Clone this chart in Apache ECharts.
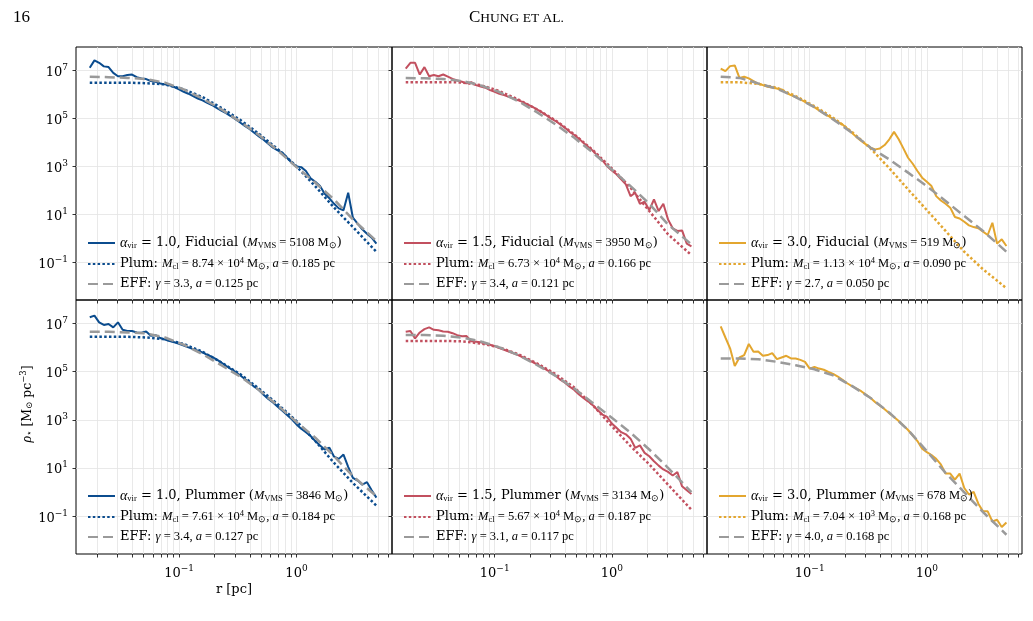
<!DOCTYPE html>
<html>
<head>
<meta charset="utf-8">
<script src="https://cdn.jsdelivr.net/npm/echarts@6/dist/echarts.min.js"></script>
<style>
html, body { margin: 0; padding: 0; background: #fff; }
#main { width: 1033px; height: 621px; }
</style>
</head>
<body>
<div id="main"></div>
<script>
// radial bins of the measured profiles, log10(r / pc)
var logR = [-1.76, -1.72, -1.68, -1.64, -1.60, -1.56, -1.52, -1.48, -1.44, -1.40,
  -1.36, -1.32, -1.28, -1.24, -1.20, -1.16, -1.12, -1.08, -1.04, -1.00,
  -0.96, -0.92, -0.88, -0.84, -0.80, -0.76, -0.72, -0.68, -0.64, -0.60,
  -0.56, -0.52, -0.48, -0.44, -0.40, -0.36, -0.32, -0.28, -0.24, -0.20,
  -0.16, -0.12, -0.08, -0.04, 0.00, 0.04, 0.08, 0.12, 0.16, 0.20,
  0.24, 0.28, 0.32, 0.36, 0.40, 0.44, 0.48, 0.52, 0.56, 0.60, 0.64, 0.68];

// radii where the fit curves were read, log10(r / pc)
var logRFit = [-1.76, -1.60, -1.44, -1.28, -1.12, -0.96, -0.80, -0.64, -0.48, -0.32, -0.16, 0.00, 0.16, 0.32, 0.48, 0.68];

// measured density profiles, log10(rho / Msun pc^-3)
var rhoFid10 = [7.11, 7.42, 7.32, 7.17, 7.14, 6.90, 6.76, 6.76, 6.81, 6.83, 6.72, 6.67, 6.64, 6.56, 6.53, 6.46, 6.42, 6.38, 6.31, 6.21,
  6.11, 6.03, 5.93, 5.83, 5.75, 5.65, 5.56, 5.44, 5.33, 5.22, 5.10, 4.97, 4.83, 4.69, 4.56, 4.40, 4.25, 4.11, 3.94, 3.78,
  3.67, 3.57, 3.36, 3.15, 3.00, 2.97, 2.81, 2.50, 2.36, 2.18, 1.86, 1.67, 1.44, 1.25, 1.17, 1.90, 0.86, 0.61, 0.38, 0.19, 0.03, -0.22];
var rhoFid15 = [7.08, 7.32, 7.32, 6.83, 7.14, 6.76, 6.81, 6.76, 6.83, 6.74, 6.65, 6.58, 6.53, 6.46, 6.51, 6.39, 6.33, 6.28, 6.18, 6.11,
  6.03, 5.97, 5.90, 5.83, 5.76, 5.68, 5.58, 5.49, 5.38, 5.26, 5.14, 5.00, 4.89, 4.75, 4.61, 4.44, 4.31, 4.15, 3.97, 3.81,
  3.64, 3.43, 3.25, 3.01, 2.83, 2.67, 2.46, 2.25, 1.76, 1.90, 1.44, 1.53, 1.18, 1.62, 1.14, 1.44, 0.79, 0.42, 0.31, 0.33, -0.22, -0.33];
var rhoFid30 = [7.08, 6.97, 7.18, 7.21, 6.69, 6.74, 6.67, 6.56, 6.44, 6.39, 6.32, 6.29, 6.25, 6.21, 6.07, 5.97, 5.89, 5.79, 5.69, 5.58,
  5.47, 5.33, 5.21, 5.10, 4.97, 4.86, 4.75, 4.58, 4.40, 4.22, 4.06, 3.92, 3.78, 3.71, 3.75, 3.89, 4.13, 4.44, 4.13, 3.75,
  3.36, 3.11, 2.81, 2.53, 2.36, 2.18, 1.76, 1.58, 1.44, 1.28, 0.89, 0.83, 0.69, 0.54, 0.47, 0.42, 0.28, 0.14, 0.65, -0.22, -0.04, -0.32];
var rhoPlm10 = [7.26, 7.33, 7.05, 6.94, 6.98, 6.84, 7.05, 6.74, 6.69, 6.69, 6.63, 6.62, 6.67, 6.49, 6.52, 6.40, 6.34, 6.27, 6.22, 6.16,
  6.09, 6.01, 5.94, 5.87, 5.80, 5.70, 5.62, 5.51, 5.38, 5.24, 5.12, 4.99, 4.85, 4.70, 4.55, 4.38, 4.24, 4.04, 3.87, 3.72,
  3.55, 3.38, 3.20, 3.02, 2.81, 2.63, 2.49, 2.33, 2.12, 1.94, 1.77, 1.84, 1.47, 1.38, 1.56, 1.05, 0.59, 0.48, 0.31, 0.41, 0.08, -0.23];
var rhoPlm15 = [6.66, 6.69, 6.38, 6.63, 6.77, 6.84, 6.74, 6.72, 6.67, 6.66, 6.60, 6.52, 6.47, 6.48, 6.26, 6.24, 6.22, 6.17, 6.12, 6.06,
  5.98, 5.91, 5.84, 5.76, 5.69, 5.60, 5.51, 5.41, 5.31, 5.20, 5.09, 4.97, 4.83, 4.67, 4.54, 4.38, 4.24, 4.05, 3.90, 3.76,
  3.60, 3.40, 3.22, 3.12, 2.85, 2.67, 2.49, 2.40, 2.22, 1.84, 1.94, 1.63, 1.49, 1.28, 1.10, 0.94, 0.84, 0.69, 0.83, 0.24, 0.08, -0.08];
var rhoPlm30 = [6.88, 6.42, 5.97, 5.24, 5.59, 5.69, 6.15, 5.83, 5.84, 5.66, 5.69, 5.77, 5.52, 5.59, 5.66, 5.55, 5.55, 5.49, 5.41, 5.13,
  5.20, 5.13, 5.08, 4.99, 4.91, 4.80, 4.66, 4.52, 4.40, 4.30, 4.19, 4.05, 3.91, 3.73, 3.59, 3.44, 3.27, 3.12, 2.95, 2.77,
  2.58, 2.35, 2.12, 1.80, 1.66, 1.54, 1.38, 1.15, 0.77, 0.77, 0.52, 0.77, 0.17, -0.10, 0.01, -0.48, -0.80, -0.80, -1.22, -1.15, -1.45, -1.26];

// Plummer fits, log10(rho)
var plumFid10 = [6.49, 6.49, 6.49, 6.47, 6.42, 6.21, 5.89, 5.44, 4.94, 4.36, 3.72, 3.00, 2.17, 1.28, 0.47, -0.56];
var plumFid15 = [6.51, 6.51, 6.51, 6.50, 6.39, 6.14, 5.79, 5.38, 4.92, 4.33, 3.67, 2.92, 2.11, 1.14, 0.17, -0.70];
var plumFid30 = [6.51, 6.51, 6.44, 6.28, 5.93, 5.51, 5.03, 4.44, 3.75, 2.92, 2.04, 1.18, 0.31, -0.56, -1.29, -2.08];
var plumPlm10 = [6.45, 6.45, 6.45, 6.42, 6.35, 6.15, 5.83, 5.38, 4.90, 4.30, 3.65, 2.95, 2.12, 1.21, 0.38, -0.56];
var plumPlm15 = [6.28, 6.28, 6.28, 6.26, 6.17, 6.01, 5.73, 5.35, 4.90, 4.34, 3.60, 2.74, 1.91, 1.15, 0.31, -0.73];
var plumPlm30 = [];

// EFF fits, log10(rho)
var effFid10 = [6.74, 6.72, 6.69, 6.64, 6.49, 6.21, 5.83, 5.38, 4.86, 4.31, 3.67, 2.97, 2.32, 1.62, 0.79, -0.11];
var effFid15 = [6.69, 6.67, 6.64, 6.56, 6.38, 6.10, 5.72, 5.26, 4.75, 4.19, 3.57, 2.87, 2.18, 1.44, 0.58, -0.25];
var effFid30 = [6.74, 6.69, 6.46, 6.24, 5.89, 5.47, 4.96, 4.40, 3.78, 3.29, 2.74, 2.18, 1.56, 0.93, 0.31, -0.56];
var effPlm10 = [6.66, 6.66, 6.63, 6.59, 6.42, 6.12, 5.73, 5.27, 4.80, 4.24, 3.60, 2.91, 2.26, 1.49, 0.66, -0.17];
var effPlm15 = [6.52, 6.52, 6.49, 6.42, 6.26, 6.01, 5.69, 5.28, 4.83, 4.30, 3.69, 3.09, 2.47, 1.77, 1.01, 0.00];
var effPlm30 = [5.55, 5.55, 5.52, 5.41, 5.27, 5.10, 4.85, 4.41, 3.91, 3.30, 2.58, 1.70, 0.80, -0.01, -0.83, -1.77];

// legend entries, panel order: top row Fiducial, bottom row Plummer
var alphaVir = ['1.0', '1.5', '3.0', '1.0', '1.5', '3.0'];
var runKind = ['Fiducial', 'Fiducial', 'Fiducial', 'Plummer', 'Plummer', 'Plummer'];
var mVms = ['5108', '3950', '519', '3846', '3134', '678'];
var mClMant = ['8.74', '6.73', '1.13', '7.61', '5.67', '7.04'];
var mClExp = ['4', '4', '4', '4', '4', '3'];
var aPlum = ['0.185', '0.166', '0.090', '0.184', '0.187', '0.168'];
var gammaEff = ['3.3', '3.4', '2.7', '3.4', '3.1', '4.0'];
var aEff = ['0.125', '0.121', '0.050', '0.127', '0.117', '0.168'];

var xTicks = [0.02, 0.03, 0.04, 0.05, 0.06, 0.07, 0.08, 0.09, 0.1, 0.2, 0.3, 0.4, 0.5, 0.6, 0.7, 0.8, 0.9, 1, 2, 3, 4, 5, 6];
var xMajor = [0.1, 1];
var yMajor = [0.1, 10, 1e3, 1e5, 1e7];

var profiles = [rhoFid10, rhoFid15, rhoFid30, rhoPlm10, rhoPlm15, rhoPlm30];
var plumFits = [plumFid10, plumFid15, plumFid30, plumPlm10, plumPlm15, plumPlm30];
var effFits = [effFid10, effFid15, effFid30, effPlm10, effPlm15, effPlm30];
var colors = ['#0b4c8e', '#c2505f', '#e3a62f'];

var X_MIN = 0.01327, X_MAX = 6.50;
var Y_MIN = 0.00269, Y_MAX = 9.5e7;

var chart = echarts.init(document.getElementById('main'));

function pairs(lr, lrho) {
  return lrho.map(function (v, k) { return [Math.pow(10, lr[k]), Math.pow(10, v)]; });
}

function powLabel(v) {
  var e = Math.round(Math.log10(v));
  return '{b|10}{e|' + (e < 0 ? '\u2212' + (-e) : e) + '}';
}

var tickRich = {
  b: { fontFamily: 'DejaVu Serif', fontSize: 13, color: '#000', padding: [4, 0, 0, 0] },
  e: { fontFamily: 'DejaVu Serif', fontSize: 9, color: '#000', padding: [0, 0, 6, 0] }
};

var legRich = {
  t: { fontFamily: 'DejaVu Serif', fontSize: 13, color: '#000' },
  g: { fontFamily: 'Liberation Serif', fontSize: 14, fontStyle: 'italic', color: '#000' },
  m: { fontFamily: 'Liberation Serif', fontSize: 12.5, color: '#000' },
  mi: { fontFamily: 'Liberation Serif', fontSize: 12.5, fontStyle: 'italic', color: '#000' },
  sub: { fontFamily: 'Liberation Serif', fontSize: 8.5, color: '#000', padding: [6, 0, 0, 0] },
  sup: { fontFamily: 'Liberation Serif', fontSize: 8.5, color: '#000', padding: [0, 0, 6, 0] }
};

var grids = [], xAxes = [], yAxes = [], legends = [], series = [];
var lefts = [76, 392, 707], widths = [316, 315, 315];
var tops = [47, 300], heights = [253, 254];
var richNames = {};

for (var i = 0; i < 6; i++) {
  var col = i % 3, row = Math.floor(i / 3);
  grids.push({ left: lefts[col], top: tops[row], width: widths[col], height: heights[row],
    show: true, borderColor: '#000', borderWidth: 1, backgroundColor: 'transparent', containLabel: false });

  xAxes.push({
    type: 'log', logBase: 10, gridIndex: i, min: X_MIN, max: X_MAX,
    axisLine: { show: false },
    axisTick: { show: true, length: 3.5, customValues: xTicks, lineStyle: { color: '#000', width: 0.8 } },
    axisLabel: { show: row === 1, customValues: xMajor, formatter: powLabel, margin: 9, rich: tickRich },
    splitLine: { show: true, lineStyle: { color: '#e3e3e3', width: 0.8 } },
    name: (i === 3) ? 'r [pc]' : '',
    nameLocation: 'middle', nameGap: 29,
    nameTextStyle: { fontFamily: 'DejaVu Serif', fontSize: 13, color: '#000' }
  });

  yAxes.push({
    type: 'log', logBase: 10, gridIndex: i, min: Y_MIN, max: Y_MAX,
    axisLine: { show: false },
    axisTick: { show: true, length: 3.5, customValues: yMajor, lineStyle: { color: '#000', width: 0.8 } },
    axisLabel: { show: col === 0, customValues: yMajor, formatter: powLabel, margin: 8, rich: tickRich },
    splitLine: { show: true, lineStyle: { color: '#e3e3e3', width: 0.8 } },
    name: (i === 3) ? '{g|\u03c1}{s|\u22c6} {b|[M}{s|\u2299}{b| pc}{e|\u22123}{b|]}' : '',
    nameLocation: 'middle', nameGap: 40, nameRotate: 90,
    nameTextStyle: {
      padding: [0, 0, 0, 46],
      rich: {
        g: { fontFamily: 'Liberation Serif', fontSize: 14, fontStyle: 'italic', color: '#000' },
        b: { fontFamily: 'DejaVu Serif', fontSize: 12.5, color: '#000' },
        s: { fontFamily: 'DejaVu Serif', fontSize: 8.5, color: '#000', padding: [5, 0, 0, 0] },
        e: { fontFamily: 'DejaVu Serif', fontSize: 8.5, color: '#000', padding: [0, 0, 6, 0] }
      }
    }
  });

  var nRun = '\u03b1vir = ' + alphaVir[i] + ', ' + runKind[i] + ' (MVMS = ' + mVms[i] + ' M\u2299)';
  var nPlum = 'Plum: Mcl = ' + mClMant[i] + 'e' + mClExp[i] + ', a = ' + aPlum[i] + ' pc';
  var nEff = 'EFF: \u03b3 = ' + gammaEff[i] + ', a = ' + aEff[i] + ' pc';

  richNames[nRun] = '{g|\u03b1}{sub|vir}{t| = ' + alphaVir[i] + ', ' + runKind[i] + ' (}{mi|M}{sub|VMS}{m| = ' + mVms[i] + ' M}{sub|\u2299}{t|)}';
  richNames[nPlum] = '{t|Plum: }{mi|M}{sub|cl}{m| = ' + mClMant[i] + ' \u00d7 10}{sup|' + mClExp[i] + '}{m| M}{sub|\u2299}{m|, }{mi|a}{m| = ' + aPlum[i] + ' pc}';
  richNames[nEff] = '{t|EFF: }{mi|\u03b3}{m| = ' + gammaEff[i] + ', }{mi|a}{m| = ' + aEff[i] + ' pc}';

  legends.push({
    orient: 'vertical', left: lefts[col] + 11, top: tops[row] + 189,
    padding: 0, itemWidth: 27, itemHeight: 14, itemGap: 6, selectedMode: false,
    itemStyle: { opacity: 0 },
    data: [nRun, nPlum, nEff],
    formatter: function (name) { return richNames[name]; },
    textStyle: { rich: legRich }
  });

  series.push({
    name: nRun, type: 'line', xAxisIndex: i, yAxisIndex: i, symbol: 'none',
    data: pairs(logR, profiles[i]), color: colors[col],
    lineStyle: { width: 2, color: colors[col] }
  });
  series.push({
    name: nPlum, type: 'line', xAxisIndex: i, yAxisIndex: i, symbol: 'none',
    data: pairs(logRFit, plumFits[i]), color: colors[col],
    lineStyle: { width: 2.5, color: colors[col], type: [2.5, 2.3] }
  });
  series.push({
    name: nEff, type: 'line', xAxisIndex: i, yAxisIndex: i, symbol: 'none',
    data: pairs(logRFit, effFits[i]), color: '#9a9a9a',
    lineStyle: { width: 2.5, color: '#9a9a9a', type: [10, 5] }
  });
}

chart.setOption({
  animation: false,
  backgroundColor: '#fff',
  title: [
    { text: '16', left: 8, top: 4, textStyle: { fontFamily: 'Liberation Serif', fontSize: 17, fontWeight: 'normal', color: '#000' } },
    { text: '{c|C}{h|HUNG ET AL.}', left: 'center', top: 4,
      textStyle: { fontWeight: 'normal', rich: {
        c: { fontFamily: 'Liberation Serif', fontSize: 17, fontWeight: 'normal', color: '#000' },
        h: { fontFamily: 'Liberation Serif', fontSize: 13.5, fontWeight: 'normal', color: '#000', padding: [2, 0, 0, 0] }
      } } }
  ],
  grid: grids,
  xAxis: xAxes,
  yAxis: yAxes,
  legend: legends,
  series: series
});
</script>
</body>
</html>
